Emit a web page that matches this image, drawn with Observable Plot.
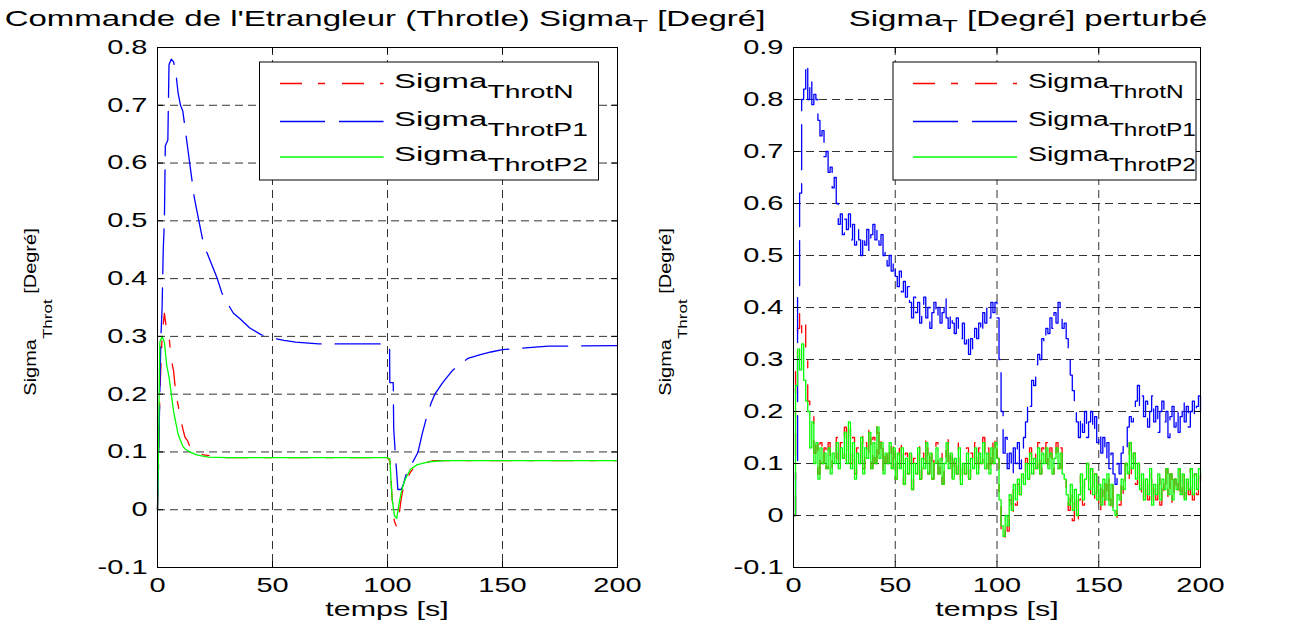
<!DOCTYPE html>
<html>
<head>
<meta charset="utf-8">
<script src="https://cdn.jsdelivr.net/npm/d3@7"></script>
<script src="https://cdn.jsdelivr.net/npm/@observablehq/plot@0.6"></script>
<style>
  body { margin: 0; background: #fff; }
  #wrap { position: relative; width: 1290px; height: 624px; overflow: hidden; background: #fff;
          font-family: "Liberation Sans", Arial, sans-serif; }
  .panel { position: absolute; top: 0; }
  #overlay { position: absolute; left: 0; top: 0; pointer-events: none; }
</style>
</head>
<body>
<div id="wrap">
  <div class="panel" id="p1" style="left:0px"></div>
  <div class="panel" id="p2" style="left:645px"></div>
</div>
<script>
// ---------------- data ----------------
const xTicks = [0, 50, 100, 150, 200];
const yTicksLeft = [-0.1, 0, 0.1, 0.2, 0.3, 0.4, 0.5, 0.6, 0.7, 0.8];
const yTicksRight = [-0.1, 0, 0.1, 0.2, 0.3, 0.4, 0.5, 0.6, 0.7, 0.8, 0.9];
const seriesNames = ["ThrotN", "ThrotP1", "ThrotP2"];

// left panel : [time s, value deg]
const leftN = [[0,0],[0.5,0.09],[1,0.2],[2,0.3],[3,0.34],[4,0.31],[5,0.3],[6,0.26],[7,0.24],[8,0.2],[9,0.18],[10,0.16],[11,0.14],[12,0.125],[13,0.12],[14,0.11],[15,0.105],[17,0.1],[20,0.095],[25,0.092],[30,0.09],[100,0.09],[101,0.085],[102,0.02],[103,-0.02],[104,-0.03],[105,-0.01],[106,0.02],[107,0.04],[108,0.05],[110,0.065],[112,0.075],[115,0.08],[120,0.085],[200,0.085]];
const leftP1 = [[0,0],[0.5,0.09],[1,0.2],[1.5,0.3],[2,0.35],[2.5,0.45],[3,0.5],[3.4,0.63],[4.5,0.64],[5,0.77],[6,0.78],[7,0.775],[8,0.755],[9,0.72],[10,0.7],[11,0.69],[12,0.66],[13,0.63],[14,0.6],[15,0.57],[16,0.54],[17,0.52],[18,0.5],[19,0.48],[20,0.46],[21,0.45],[22,0.44],[24,0.42],[26,0.4],[28,0.375],[30,0.36],[33,0.34],[36,0.33],[40,0.315],[45,0.303],[50,0.297],[55,0.293],[60,0.29],[70,0.287],[100,0.287],[100.9,0.285],[101,0.22],[102.5,0.22],[102.7,0.14],[103.5,0.09],[104,0.064],[104.5,0.035],[106,0.035],[107,0.045],[108,0.06],[110,0.075],[112,0.09],[113.3,0.1],[115,0.13],[117,0.16],[119,0.185],[120.6,0.2],[124,0.22],[128,0.24],[131,0.25],[135,0.262],[140,0.268],[145,0.273],[150,0.277],[160,0.28],[170,0.283],[200,0.284]];
const leftP2 = [[0,0],[0.4,0.085],[1,0.29],[2,0.3],[3,0.29],[4,0.25],[5,0.23],[6,0.2],[7,0.17],[8,0.15],[9,0.13],[10,0.12],[11,0.11],[12,0.105],[14,0.1],[17,0.095],[22,0.091],[30,0.09],[100,0.09],[101,0.088],[102,0.02],[103,-0.01],[104,-0.015],[105,0.01],[106,0.03],[107,0.045],[108,0.055],[110,0.07],[113,0.078],[118,0.083],[125,0.085],[200,0.085]];

// right panel : one sample per second, t = 0 .. 200
const rightStep = 1;
const rightN = [
 0,0.3,0.36,0.39,0.35,0.37,0.3,0.22,0.2,0.19,
 0.12,0.15,0.08,0.14,0.1,0.13,0.09,0.14,0.09,0.12,
 0.11,0.15,0.09,0.14,0.11,0.17,0.1,0.18,0.1,0.15,
 0.08,0.13,0.1,0.16,0.09,0.14,0.11,0.17,0.09,0.15,
 0.1,0.18,0.11,0.15,0.08,0.13,0.1,0.14,0.09,0.14,
 0.07,0.13,0.09,0.14,0.06,0.12,0.08,0.13,0.05,0.11,
 0.08,0.14,0.07,0.12,0.09,0.15,0.08,0.13,0.07,0.11,
 0.14,0.08,0.12,0.06,0.11,0.15,0.09,0.13,0.07,0.12,
 0.08,0.14,0.06,0.11,0.08,0.13,0.07,0.12,0.09,0.14,
 0.08,0.13,0.1,0.15,0.09,0.13,0.08,0.14,0.1,0.15,
 0.11,0.02,-0.03,-0.045,-0.01,-0.03,0.03,0,0.05,0.02,
 0.06,0.04,0.08,0.06,0.11,0.07,0.13,0.08,0.12,0.09,
 0.14,0.08,0.13,0.1,0.14,0.09,0.13,0.08,0.12,0.14,
 0.09,0.13,0.08,0.07,0.03,0.01,0.05,-0.01,0.04,-0.01,
 0.03,0.08,0.02,0.07,0.1,0.04,0.09,0.03,0.08,0.02,
 0.06,0.01,0.07,0.02,0.08,0.01,0.06,0,-0.005,0.03,
 0.02,0.07,0.04,0.1,0.07,0.14,0.08,0.12,0.06,0.1,
 0.04,0.08,0.02,0.07,0.03,0.09,0.02,0.06,0.03,0.08,
 0.02,0.07,0.04,0.09,0.03,0.08,0.02,0.07,0.04,0.09,
 0.03,0.08,0.02,0.07,0.04,0.09,0.03,0.08,0.04,0.09,
 0.06];
const rightP1 = [
 0,0.1,0.42,0.62,0.8,0.82,0.87,0.8,0.84,0.79,
 0.81,0.8,0.76,0.73,0.74,0.69,0.7,0.66,0.67,0.63,
 0.65,0.6,0.56,0.58,0.54,0.57,0.55,0.58,0.53,0.56,
 0.52,0.55,0.53,0.5,0.54,0.52,0.55,0.51,0.54,0.56,
 0.53,0.55,0.52,0.54,0.5,0.51,0.48,0.5,0.47,0.49,
 0.46,0.44,0.47,0.43,0.45,0.42,0.44,0.41,0.38,0.42,
 0.39,0.41,0.37,0.4,0.42,0.38,0.4,0.36,0.39,0.41,
 0.38,0.4,0.37,0.39,0.42,0.38,0.36,0.39,0.37,0.35,
 0.38,0.36,0.34,0.37,0.33,0.35,0.31,0.34,0.32,0.36,
 0.34,0.37,0.35,0.39,0.37,0.4,0.38,0.41,0.39,0.41,
 0.38,0.3,0.2,0.12,0.15,0.09,0.12,0.08,0.13,0.1,
 0.14,0.09,0.12,0.15,0.18,0.22,0.21,0.26,0.25,0.29,
 0.31,0.3,0.34,0.33,0.36,0.35,0.38,0.36,0.39,0.37,
 0.41,0.38,0.36,0.37,0.34,0.3,0.27,0.24,0.2,0.18,
 0.15,0.19,0.16,0.2,0.15,0.18,0.2,0.16,0.19,0.14,
 0.16,0.12,0.15,0.11,0.14,0.09,0.12,0.08,0.06,0.1,
 0.08,0.12,0.14,0.13,0.17,0.19,0.18,0.2,0.22,0.25,
 0.21,0.23,0.19,0.22,0.17,0.2,0.23,0.18,0.21,0.16,
 0.2,0.22,0.18,0.2,0.15,0.19,0.21,0.17,0.2,0.16,
 0.19,0.22,0.18,0.21,0.17,0.2,0.22,0.19,0.21,0.23,
 0.2];
const rightP2 = [
 0,0.25,0.32,0.28,0.33,0.26,0.22,0.2,0.13,0.18,
 0.1,0.14,0.07,0.13,0.1,0.12,0.09,0.13,0.08,0.12,
 0.1,0.14,0.09,0.13,0.11,0.16,0.1,0.18,0.09,0.14,
 0.07,0.12,0.1,0.15,0.08,0.13,0.11,0.16,0.09,0.14,
 0.1,0.17,0.11,0.14,0.08,0.12,0.1,0.14,0.09,0.13,
 0.07,0.12,0.09,0.13,0.06,0.11,0.08,0.12,0.05,0.1,
 0.08,0.13,0.07,0.11,0.09,0.14,0.08,0.12,0.07,0.1,
 0.13,0.08,0.11,0.06,0.1,0.14,0.09,0.12,0.07,0.11,
 0.08,0.13,0.06,0.1,0.08,0.12,0.07,0.11,0.09,0.13,
 0.08,0.12,0.1,0.14,0.09,0.12,0.08,0.13,0.1,0.14,
 0.11,0.03,-0.02,-0.04,0,-0.02,0.04,0.01,0.06,0.03,
 0.07,0.04,0.08,0.06,0.1,0.07,0.12,0.08,0.11,0.09,
 0.13,0.08,0.12,0.1,0.13,0.09,0.12,0.08,0.11,0.13,
 0.09,0.12,0.08,0.07,0.04,0.02,0.06,0.01,0.05,0,
 0.04,0.08,0.03,0.07,0.1,0.05,0.09,0.04,0.08,0.03,
 0.06,0.02,0.07,0.03,0.08,0.02,0.06,0.01,0,0.04,
 0.03,0.07,0.05,0.1,0.08,0.14,0.09,0.12,0.07,0.1,
 0.05,0.08,0.03,0.07,0.04,0.09,0.02,0.06,0.04,0.08,
 0.03,0.07,0.05,0.09,0.04,0.08,0.03,0.07,0.05,0.09,
 0.04,0.08,0.03,0.07,0.05,0.09,0.04,0.08,0.05,0.09,
 0.07];

// ---------------- styling ----------------
const FONT = '"Liberation Sans", Arial, sans-serif';
const SX = 1.45;             // horizontal stretch of the reference lettering
const H = 624, W = 645;
const MT = 47, MB = 57;
const styles = {
  N:  {stroke: "#ff0000", strokeDasharray: "22,16,7,17", strokeWidth: 1.3},
  P1: {stroke: "#0000ff", strokeDasharray: "45,14", strokeWidth: 1.3},
  P2: {stroke: "#00ff00", strokeWidth: 1.3}
};
const gridStyle = {stroke: "#000", strokeOpacity: 0.8, strokeDasharray: "8,5", strokeWidth: 1};

const pairs = a => a.map(([t, v]) => ({t, v}));
const sampled = a => a.map((v, i) => ({t: i * rightStep, v}));

function panel({ml, mr, yDomain, yTicks, N, P1, P2, curve}) {
  const innerW = W - ml - mr, innerH = H - MT - MB;
  const kx = 6 * 200 / innerW;
  const ky = 6 * (yDomain[1] - yDomain[0]) / innerH;
  const xIn = xTicks.slice(1, -1), yIn = yTicks.slice(1, -1);
  const svg = Plot.plot({
    width: W, height: H,
    marginLeft: ml, marginRight: mr, marginTop: MT, marginBottom: MB,
    style: {fontFamily: FONT, color: "#000", background: "transparent", overflow: "visible"},
    x: {domain: [0, 200], label: null},
    y: {domain: yDomain, label: null},
    marks: [
      Plot.ruleX(xIn, gridStyle),
      Plot.ruleY(yIn, gridStyle),
      Plot.line(N, {x: "t", y: "v", curve, ...styles.N}),
      Plot.line(P1, {x: "t", y: "v", curve, ...styles.P1}),
      Plot.line(P2, {x: "t", y: "v", curve, ...styles.P2}),
      Plot.ruleY(yTicks, {x1: 0, x2: kx, stroke: "#000"}),
      Plot.ruleY(yTicks, {x1: 200 - kx, x2: 200, stroke: "#000"}),
      Plot.ruleX(xTicks, {y1: yDomain[0], y2: yDomain[0] + ky, stroke: "#000"}),
      Plot.ruleX(xTicks, {y1: yDomain[1] - ky, y2: yDomain[1], stroke: "#000"}),
      Plot.frame({stroke: "#000", strokeWidth: 1}),
      Plot.axisX(xTicks, {tickSize: 0, tickPadding: 10, fontSize: 20, tickFormat: d => String(d)}),
      Plot.axisY(yTicks, {tickSize: 0, tickPadding: 10, fontSize: 20, tickFormat: d => String(d)})
    ]
  });
  svg.querySelectorAll('g[aria-label$="tick label"] text').forEach(el => {
    const tr = el.getAttribute("transform") || "";
    el.setAttribute("transform", tr + ` scale(${SX},1)`);
  });
  return svg;
}

document.getElementById("p1").appendChild(panel({
  ml: 157, mr: W - 617, yDomain: [-0.1, 0.8], yTicks: yTicksLeft,
  N: pairs(leftN), P1: pairs(leftP1), P2: pairs(leftP2), curve: "linear"
}));
document.getElementById("p2").appendChild(panel({
  ml: 793 - 645, mr: W - (1200 - 645), yDomain: [-0.1, 0.9], yTicks: yTicksRight,
  N: sampled(rightN), P1: sampled(rightP1), P2: sampled(rightP2), curve: "step-after"
}));

// ---------------- overlay: titles, labels, legends ----------------
const NS = "http://www.w3.org/2000/svg";
const ov = document.createElementNS(NS, "svg");
ov.setAttribute("id", "overlay");
ov.setAttribute("width", 1290); ov.setAttribute("height", 624);
ov.setAttribute("font-family", FONT);
document.getElementById("wrap").appendChild(ov);

function el(tag, attrs, parent = ov) {
  const e = document.createElementNS(NS, tag);
  for (const k in attrs) e.setAttribute(k, attrs[k]);
  parent.appendChild(e);
  return e;
}
function rich(parent, parts) {
  for (const [txt, fs, dy] of parts) {
    const s = el("tspan", {"font-size": fs, dy: dy}, parent);
    s.textContent = txt;
  }
}

const titles = [
  {cx: 385, parts: [["Commande de l'Etrangleur (Throtle) Sigma", 22, 0], ["T", 17, 6], [" [Degré]", 22, -6]]},
  {cx: 1028, parts: [["Sigma", 22, 0], ["T", 17, 6], [" [Degré] perturbé", 22, -6]]}
];
for (const t of titles) {
  const tx = el("text", {transform: `translate(${t.cx},26) scale(1.5,1)`, "text-anchor": "middle", fill: "#000"});
  rich(tx, t.parts);
}
for (const cx of [387, 997]) {
  const tx = el("text", {transform: `translate(${cx},616) scale(${SX},1)`, "text-anchor": "middle", "font-size": 21, fill: "#000"});
  tx.textContent = "temps [s]";
}
for (const bx of [36, 671]) {
  const g = el("g", {transform: `translate(${bx},312) rotate(-90)`});
  const tx = el("text", {transform: "scale(1,0.78)", "text-anchor": "middle", fill: "#000"}, g);
  rich(tx, [["Sigma", 20, 0], ["Throt", 17, 20], [" [Degré]", 20, -20]]);
}

// legends
const legends = [
  {x: 259.5, w: 339, lineL: 20.5, lineR: 124, textX: 134.5, sx: 1.57},
  {x: 893, w: 303, lineL: 20, lineR: 124, textX: 135, sx: 1.36}
];
const rowsY = [83.5, 121.5, 157];
const legendStyles = [styles.N, styles.P1, styles.P2];
for (const L of legends) {
  el("rect", {x: L.x, y: 62, width: L.w, height: 118, fill: "#fff", stroke: "#000", "stroke-width": 1});
  seriesNames.forEach((name, i) => {
    const s = legendStyles[i];
    el("line", {x1: L.x + L.lineL, x2: L.x + L.lineR, y1: rowsY[i], y2: rowsY[i], stroke: s.stroke,
                "stroke-width": 1.3, "stroke-dasharray": s.strokeDasharray || "none"});
    const tx = el("text", {transform: `translate(${L.x + L.textX},${rowsY[i] + 4}) scale(${L.sx},1)`, fill: "#000"});
    rich(tx, [["Sigma", 21, 0], [name, 18, 10]]);
  });
}
</script>
</body>
</html>
